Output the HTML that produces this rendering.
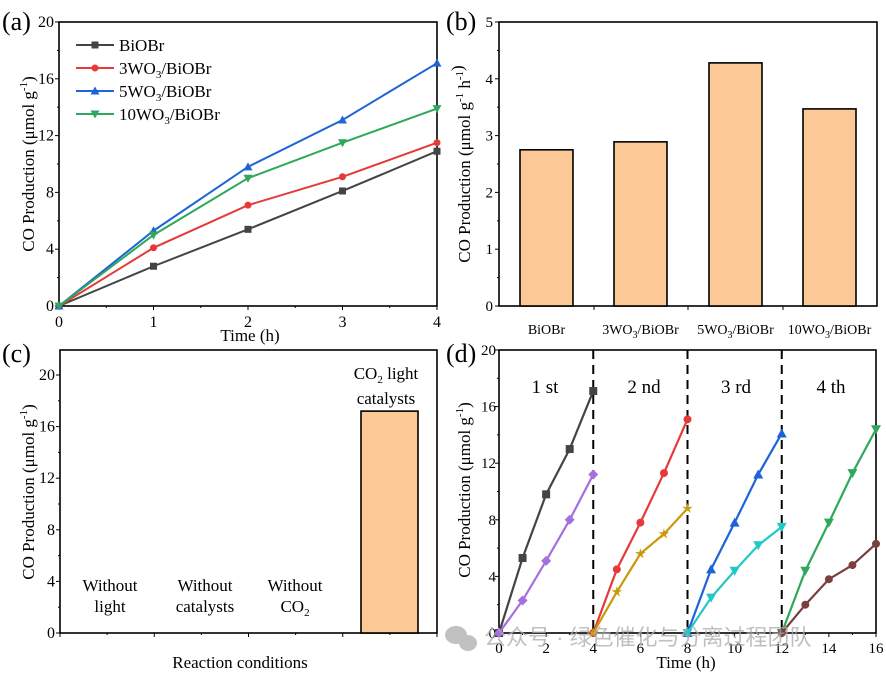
<!DOCTYPE html>
<html><head><meta charset="utf-8"><style>
body{margin:0;background:#fff}
svg{display:block;font-family:"Liberation Serif",serif}
</style></head><body>
<svg id="s" width="886" height="673" xmlns="http://www.w3.org/2000/svg"></svg>
<script>
const s=document.getElementById('s');let h='';
const TF=16,LF=17;
function Y(v,yb,ppu){return yb-v*ppu}
const yl=(tx,ty,extra)=>`<text transform="translate(${tx},${ty}) rotate(-90)" font-size="${LF}" text-anchor="middle">CO Production (μmol g<tspan dy="-7" font-size="11">-1</tspan><tspan dy="7">${extra||''})</tspan></text>`;
// ===== Panel (a)
let ax0=59,ax1=437,ayt=22,ayb=306,ppa=(306-22)/20,pxa=(437-59)/4;
h+=`<rect x="${ax0}" y="${ayt}" width="${ax1-ax0}" height="${ayb-ayt}" fill="none" stroke="#000" stroke-width="1.6"/>`;
for(let v=0;v<=20;v+=2){let y=Y(v,ayb,ppa);h+=`<line x1="${ax0}" x2="${ax0-(v%4?2:4)}" y1="${y}" y2="${y}" stroke="#000"/>`;if(v%4==0)h+=`<text x="${ax0-5}" y="${y+5}" font-size="${TF}" text-anchor="end">${v}</text>`}
for(let t=0;t<=4;t+=0.5){let x=ax0+t*pxa;h+=`<line x1="${x}" x2="${x}" y1="${ayb}" y2="${ayb+(t%1?2:4)}" stroke="#000"/>`;if(t%1==0)h+=`<text x="${x}" y="${ayb+21}" font-size="${TF}" text-anchor="middle">${t}</text>`}
h+=`<text x="250" y="341" font-size="${LF}" text-anchor="middle">Time (h)</text>`;
h+=yl(34,164);
h+=`<text x="2" y="30" font-size="26">(a)</text>`;
function mk(t,x,y,c,r){r=r||3.5;
 if(t=='s')return `<rect x="${x-r}" y="${y-r}" width="${2*r}" height="${2*r}" fill="${c}"/>`;
 if(t=='c')return `<circle cx="${x}" cy="${y}" r="${r}" fill="${c}"/>`;
 if(t=='u')return `<polygon points="${x},${y-r-1} ${x-r-1},${y+r} ${x+r+1},${y+r}" fill="${c}"/>`;
 if(t=='d')return `<polygon points="${x},${y+r+1} ${x-r-1},${y-r} ${x+r+1},${y-r}" fill="${c}"/>`;
 if(t=='m')return `<polygon points="${x},${y-r-1} ${x+r+1},${y} ${x},${y+r+1} ${x-r-1},${y}" fill="${c}"/>`;
 if(t=='p'){let p=[];for(let i=0;i<10;i++){let a=-Math.PI/2+i*Math.PI/5,rr=i%2?r*0.5:r*1.4;p.push((x+rr*Math.cos(a)).toFixed(1)+','+(y+rr*Math.sin(a)).toFixed(1))}return `<polygon points="${p.join(' ')}" fill="${c}"/>`}
}
const A=[['#444','s',[0,2.8,5.4,8.1,10.9]],['#e63a3a','c',[0,4.1,7.1,9.1,11.5]],['#1e64d8','u',[0,5.3,9.8,13.1,17.1]],['#2ea85a','d',[0,5,9,11.5,13.9]]];
A.forEach(([c,m,d])=>{let p=d.map((v,i)=>[ax0+i*pxa,Y(v,ayb,ppa)]);h+=`<polyline points="${p.map(q=>q.join(',')).join(' ')}" fill="none" stroke="${c}" stroke-width="2"/>`;p.forEach(q=>h+=mk(m,q[0],q[1],c))});
const sub=(a,fs)=>`${a}WO<tspan dy="4" font-size="${fs}">3</tspan><tspan dy="-4">/BiOBr</tspan>`;
const L=['BiOBr',sub(3,11),sub(5,11),sub(10,11)];
A.forEach(([c,m],i)=>{let y=45+i*23;h+=`<line x1="76" x2="114" y1="${y}" y2="${y}" stroke="${c}" stroke-width="2"/>`+mk(m,95,y,c)+`<text x="119" y="${y+6}" font-size="${LF}">${L[i]}</text>`});
// ===== Panel (b)
let bx0=499,bx1=877,byt=22,byb=306,ppb=(306-22)/5;
h+=`<rect x="${bx0}" y="${byt}" width="${bx1-bx0}" height="${byb-byt}" fill="none" stroke="#000" stroke-width="1.6"/>`;
for(let v=0;v<=5;v+=0.5){let y=Y(v,byb,ppb);h+=`<line x1="${bx0}" x2="${bx0-(v%1?2:4)}" y1="${y}" y2="${y}" stroke="#000"/>`;if(v%1==0)h+=`<text x="${bx0-6}" y="${y+5}" font-size="${TF-1}" text-anchor="end">${v}</text>`}
[594,688,783].forEach(x=>h+=`<line x1="${x}" x2="${x}" y1="${byb}" y2="${byb+4}" stroke="#000"/>`);
const B=[[520,2.75,'BiOBr'],[614,2.89,sub(3,10)],[709,4.28,sub(5,10)],[803,3.47,sub(10,10)]];
B.forEach(([x,v,l])=>{let y=Y(v,byb,ppb);h+=`<rect x="${x}" y="${y}" width="53" height="${byb-y}" fill="#fbc896" stroke="#000" stroke-width="1.6"/><text x="${x+26.5}" y="334" font-size="14" text-anchor="middle">${l}</text>`});
h+=yl(470,164,' h<tspan dy="-7" font-size="11">-1</tspan><tspan dy="7"></tspan>');
h+=`<text x="446" y="30" font-size="26">(b)</text>`;
// ===== Panel (c)
let cx0=60,cx1=437,cyt=350,cyb=633,ppc=(633-375)/20;
h+=`<rect x="${cx0}" y="${cyt}" width="${cx1-cx0}" height="${cyb-cyt}" fill="none" stroke="#000" stroke-width="1.6"/>`;
for(let v=0;v<=20;v+=2){let y=Y(v,cyb,ppc);h+=`<line x1="${cx0}" x2="${cx0-(v%4?2:4)}" y1="${y}" y2="${y}" stroke="#000"/>`;if(v%4==0)h+=`<text x="${cx0-5}" y="${y+5}" font-size="${TF}" text-anchor="end">${v}</text>`}
for(let i=0;i<=8;i++){let x=cx0+i*(cx1-cx0)/8;h+=`<line x1="${x}" x2="${x}" y1="${cyb}" y2="${cyb+(i%2?2:4)}" stroke="#000"/>`}
{let y=Y(17.2,cyb,ppc);h+=`<rect x="361" y="${y}" width="57" height="${cyb-y}" fill="#fbc896" stroke="#000" stroke-width="1.6"/>`}
h+=`<g font-size="${LF}" text-anchor="middle"><text x="110" y="591">Without</text><text x="110" y="612">light</text><text x="205" y="591">Without</text><text x="205" y="612">catalysts</text><text x="295" y="591">Without</text><text x="295" y="612">CO<tspan dy="4" font-size="11">2</tspan></text>
<text x="386" y="379">CO<tspan dy="4" font-size="11">2</tspan><tspan dy="-4">  light</tspan></text><text x="386" y="404">catalysts</text><text x="240" y="668">Reaction conditions</text></g>`;
h+=yl(34,492);
h+=`<text x="2" y="362" font-size="26">(c)</text>`;
// ===== Panel (d)
let dx0=499,dx1=876,dyt=350,dyb=633,ppd=(633-350)/20,pxd=(876-499)/16;
h+=`<rect x="${dx0}" y="${dyt}" width="${dx1-dx0}" height="${dyb-dyt}" fill="none" stroke="#000" stroke-width="1.6"/>`;
for(let v=0;v<=20;v+=2){let y=Y(v,dyb,ppd);h+=`<line x1="${dx0}" x2="${dx0-(v%4?2:4)}" y1="${y}" y2="${y}" stroke="#000"/>`;if(v%4==0)h+=`<text x="${dx0-3}" y="${y+5}" font-size="${TF-1}" text-anchor="end">${v}</text>`}
for(let t=0;t<=16;t++){let x=dx0+t*pxd;h+=`<line x1="${x}" x2="${x}" y1="${dyb}" y2="${dyb+(t%2?2:4)}" stroke="#000"/>`;if(t%2==0)h+=`<text x="${x}" y="${dyb+20}" font-size="${TF-1}" text-anchor="middle">${t}</text>`}
[4,8,12].forEach(t=>{let x=dx0+t*pxd;h+=`<line x1="${x}" x2="${x}" y1="${dyt}" y2="${dyb}" stroke="#000" stroke-width="2" stroke-dasharray="9,6"/>`});
h+=`<g font-size="19" text-anchor="middle"><text x="545" y="393">1 st</text><text x="644" y="393">2 nd</text><text x="736" y="393">3 rd</text><text x="831" y="393">4 th</text></g>`;
const D=[['#444','s',0,[0,5.3,9.8,13,17.1]],['#a66fe0','m',0,[0,2.3,5.1,8,11.2]],['#e63a3a','c',4,[0,4.5,7.8,11.3,15.1]],['#c89a0a','p',4,[0,2.9,5.6,7,8.8]],['#1e64d8','u',8,[0,4.5,7.8,11.2,14.1]],['#22c8c8','d',8,[0,2.5,4.4,6.2,7.5]],['#2ea85a','d',12,[0,4.4,7.8,11.3,14.4]],['#7a3f3f','c',12,[0,2,3.8,4.8,6.3]]];
D.forEach(([c,m,o,d])=>{let p=d.map((v,i)=>[dx0+(o+i)*pxd,Y(v,dyb,ppd)]);h+=`<polyline points="${p.map(q=>q.join(',')).join(' ')}" fill="none" stroke="${c}" stroke-width="2.2"/>`;p.forEach(q=>h+=mk(m,q[0],q[1],c,4))});
h+=`<text x="686" y="668" font-size="${LF}" text-anchor="middle">Time (h)</text>`;
h+=yl(470,490);
h+=`<text x="446" y="362" font-size="26">(d)</text>`;
h+=`<g fill="#999" opacity="0.6"><ellipse cx="456" cy="635" rx="11" ry="9"/><ellipse cx="468" cy="643" rx="9" ry="8"/></g>`;
h+=`<text x="484" y="645" font-size="22" fill="#aaa" opacity="0.75" font-family="Liberation Sans,Noto Sans CJK SC,sans-serif">公众号 · 绿色催化与分离过程团队</text>`;
s.innerHTML=h;
</script>
</body></html>
